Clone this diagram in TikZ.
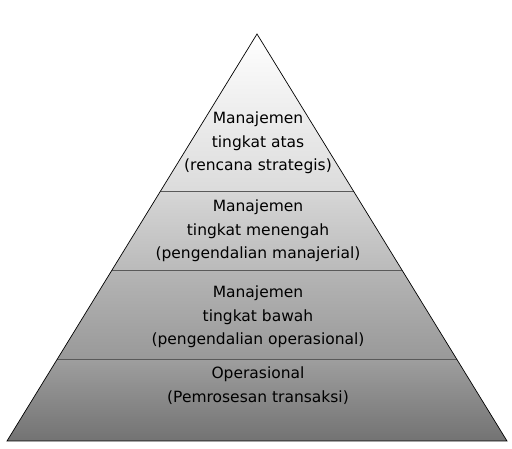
\documentclass[tikz,border=0pt]{standalone}
\usepackage{fontspec}
\setmainfont{DejaVu Sans}
\usetikzlibrary{calc}

\begin{document}
\begin{tikzpicture}[x=1pt,y=1pt,
  lbl/.style={align=center,font=\fontsize{15.5}{23.5}\selectfont},
  divider/.style={draw=black!65,line width=1.1pt}]
  \useasboundingbox (0,0) rectangle (512,449);
  \coordinate (apex) at (257,415);
  \coordinate (bl) at (7,8);
  \coordinate (br) at (507,8);
  % level borders along the sides
  \foreach \n/\t in {1/0.386,2/0.580,3/0.799}{
    \coordinate (l\n) at ($(apex)!\t!(bl)$);
    \coordinate (r\n) at ($(apex)!\t!(br)$);
  }

  \shade[top color=white,bottom color=black!14] (apex) -- (l1) -- (r1) -- cycle;
  \shade[top color=black!16,bottom color=black!27] (l1) -- (l2) -- (r2) -- (r1) -- cycle;
  \shade[top color=black!29,bottom color=black!40] (l2) -- (l3) -- (r3) -- (r2) -- cycle;
  \shade[top color=black!38,bottom color=black!55] (l3) -- (bl) -- (br) -- (r3) -- cycle;

  \draw[divider] (l1) -- (r1);
  \draw[divider] (l2) -- (r2);
  \draw[divider] (l3) -- (r3);
  \draw[line width=0.7pt] (apex) -- (bl) -- (br) -- cycle;

  \node[lbl] (atas) at (258,306) {Manajemen\\tingkat atas\\(rencana strategis)};
  \node[lbl] (menengah) at (258,218) {Manajemen\\tingkat menengah\\(pengendalian manajerial)};
  \node[lbl] (bawah) at (258,132) {Manajemen\\tingkat bawah\\(pengendalian operasional)};
  \node[lbl] (operasional) at (258,63.5) {Operasional\\(Pemrosesan transaksi)};
\end{tikzpicture}
\end{document}
